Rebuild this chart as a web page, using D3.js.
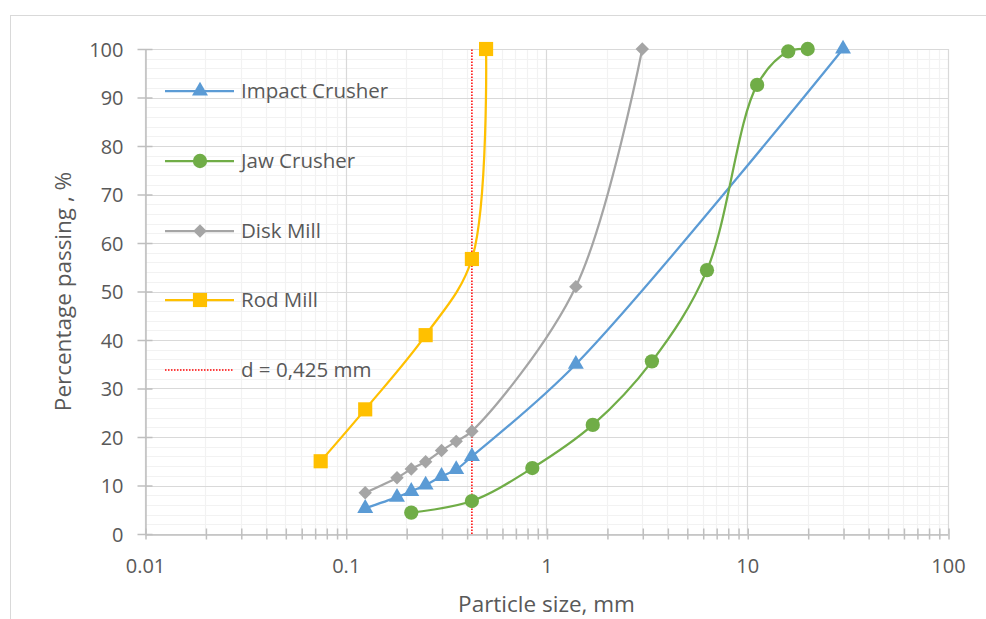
<!DOCTYPE html>
<html>
<head>
<meta charset="utf-8">
<script src="https://cdn.jsdelivr.net/npm/d3@7"></script>
<style>
  body { margin: 0; background: #fff; }
  text { font-family: "Open Sans", "Noto Sans", sans-serif; fill: #595959; }
</style>
</head>
<body>
<div id="chart"></div>
<script>
// particle size (mm) and % passing
const impactSize = [0.125, 0.18, 0.212, 0.25, 0.3, 0.355, 0.425, 1.4, 30];
const impactPass = [5.3, 7.6, 8.8, 10.1, 11.9, 13.3, 16.0, 35.0, 100];

const jawSize = [0.212, 0.425, 0.85, 1.7, 3.35, 6.3, 11.2, 16, 20];
const jawPass = [4.4, 6.8, 13.6, 22.5, 35.6, 54.4, 92.6, 99.5, 100];

const diskSize = [0.125, 0.18, 0.212, 0.25, 0.3, 0.355, 0.425, 1.4, 3];
const diskPass = [8.5, 11.6, 13.4, 14.9, 17.2, 19.1, 21.2, 51.0, 100];

const rodSize = [0.075, 0.125, 0.25, 0.425, 0.5];
const rodPass = [15.0, 25.7, 41.0, 56.7, 100];

const cutSize = 0.425;

const seriesNames = ["Impact Crusher", "Jaw Crusher", "Disk Mill", "Rod Mill"];
const xTickLabels = [0.01, 0.1, 1, 10, 100];
const yTickLabels = [0, 10, 20, 30, 40, 50, 60, 70, 80, 90, 100];

const width = 986, height = 619;
const margin = { top: 49, right: 38, bottom: 85, left: 145 };

const svg = d3.select("#chart").append("svg")
    .attr("width", width)
    .attr("height", height);

// outer chart frame
svg.append("rect")
    .attr("x", 10.5).attr("y", 15.5)
    .attr("width", width).attr("height", height)
    .attr("fill", "none")
    .attr("stroke", "#d9d9d9");

const x = d3.scaleLog().domain([0.01, 100]).range([margin.left, width - margin.right]);
const y = d3.scaleLinear().domain([0, 100]).range([height - margin.bottom, margin.top]);

const g = svg.append("g");

// minor grid
const minorX = [];
for (let dec = 0.01; dec < 100; dec *= 10) {
    for (let k = 2; k <= 9; k++) minorX.push(+(dec * k).toPrecision(3));
}
const minorY = d3.range(0, 101, 2).filter(v => v % 10 !== 0);

g.selectAll("line.minx").data(minorX).enter().append("line")
    .attr("x1", d => Math.round(x(d)) + 0.5).attr("x2", d => Math.round(x(d)) + 0.5)
    .attr("y1", y(0)).attr("y2", y(100))
    .attr("stroke", "#f2f2f2").attr("stroke-width", 1.2);
g.selectAll("line.miny").data(minorY).enter().append("line")
    .attr("x1", x(0.01)).attr("x2", x(100))
    .attr("y1", d => Math.round(y(d)) + 0.5).attr("y2", d => Math.round(y(d)) + 0.5)
    .attr("stroke", "#f2f2f2").attr("stroke-width", 1.2);

// major grid
g.selectAll("line.majx").data(xTickLabels).enter().append("line")
    .attr("x1", d => Math.round(x(d)) + 0.5).attr("x2", d => Math.round(x(d)) + 0.5)
    .attr("y1", y(0)).attr("y2", y(100))
    .attr("stroke", "#d9d9d9").attr("stroke-width", 1.2);
g.selectAll("line.majy").data(yTickLabels).enter().append("line")
    .attr("x1", x(0.01)).attr("x2", x(100))
    .attr("y1", d => Math.round(y(d)) + 0.5).attr("y2", d => Math.round(y(d)) + 0.5)
    .attr("stroke", "#d9d9d9").attr("stroke-width", 1.2);

// axes
const xAxis = d3.axisBottom(x)
    .tickValues(xTickLabels.concat(minorX))
    .tickFormat(d => xTickLabels.includes(d) ? String(d) : "")
    .tickSize(5).tickSizeOuter(0).tickPadding(19);
const xg = svg.append("g")
    .attr("transform", `translate(0,${Math.round(y(0)) + 0.5})`)
    .call(xAxis);
xg.selectAll(".tick line").attr("y1", -6).attr("y2", 5);
xg.selectAll(".tick line").attr("transform", "translate(0.5,0)");

const yAxis = d3.axisLeft(y)
    .tickValues(yTickLabels)
    .tickSize(8).tickSizeOuter(0).tickPadding(14);
const yg = svg.append("g")
    .attr("transform", `translate(${Math.round(x(0.01)) + 0.5},0)`)
    .call(yAxis);
yg.selectAll(".tick line").attr("x2", 7).attr("x1", -8);

[xg, yg].forEach(a => {
    a.select(".domain").attr("stroke", "#bfbfbf").attr("stroke-width", 1.5);
    a.selectAll(".tick line").attr("stroke", "#bfbfbf").attr("stroke-width", 1.5);
    a.selectAll(".tick text").style("font-size", "20px").attr("fill", "#595959");
});
yg.selectAll(".tick text").attr("dy", "0.35em");

// cut size line
svg.append("line")
    .attr("x1", x(cutSize)).attr("x2", x(cutSize))
    .attr("y1", y(0)).attr("y2", y(100))
    .attr("stroke", "#ff0000").attr("stroke-width", 1.5)
    .attr("stroke-dasharray", "1.5,1.5");

const series = [
    { name: seriesNames[0], xs: impactSize, ys: impactPass, color: "#5b9bd5", symbol: d3.symbolTriangle, size: 110, rot: 0 },
    { name: seriesNames[1], xs: jawSize, ys: jawPass, color: "#70ad47", symbol: d3.symbolCircle, size: 160, rot: 0 },
    { name: seriesNames[2], xs: diskSize, ys: diskPass, color: "#a5a5a5", symbol: d3.symbolSquare, size: 90, rot: 45 },
    { name: seriesNames[3], xs: rodSize, ys: rodPass, color: "#ffc000", symbol: d3.symbolSquare, size: 200, rot: 0 }
];

const line = d3.line()
    .x(d => x(d[0])).y(d => y(d[1]))
    .curve(d3.curveCatmullRom.alpha(0.5));

const sg = svg.append("g");
series.forEach(s => {
    const pts = s.xs.map((v, i) => [v, s.ys[i]]);
    sg.append("path")
        .datum(pts)
        .attr("d", line)
        .attr("fill", "none")
        .attr("stroke", s.color)
        .attr("stroke-width", 2.25);
    sg.selectAll(null).data(pts).enter().append("path")
        .attr("transform", d => `translate(${x(d[0])},${y(d[1])}) rotate(${s.rot})`)
        .attr("d", d3.symbol().type(s.symbol).size(s.size))
        .attr("fill", s.color);
});

// legend
const legend = svg.append("g");
const legY = [91, 161, 231, 300, 370];
series.forEach((s, i) => {
    const lg = legend.append("g").attr("transform", `translate(0,${legY[i]})`);
    lg.append("line").attr("x1", 165).attr("x2", 234)
        .attr("stroke", s.color).attr("stroke-width", 2.25);
    lg.append("path").attr("transform", `translate(200,0) rotate(${s.rot})`)
        .attr("d", d3.symbol().type(s.symbol).size(s.size))
        .attr("fill", s.color);
    lg.append("text").attr("x", 241).attr("dy", "0.35em")
        .style("font-size", "20.5px").text(s.name);
});
const cl = legend.append("g").attr("transform", `translate(0,${legY[4]})`);
cl.append("line").attr("x1", 165).attr("x2", 233)
    .attr("stroke", "#ff0000").attr("stroke-width", 1.5)
    .attr("stroke-dasharray", "1.5,1.5");
cl.append("text").attr("x", 241).attr("dy", "0.35em")
    .style("font-size", "20.5px").text("d = 0,425 mm");

// axis titles
svg.append("text")
    .attr("x", x(1)).attr("y", 604).attr("dy", "0.35em")
    .attr("text-anchor", "middle")
    .style("font-size", "22.5px")
    .text("Particle size, mm");
svg.append("text")
    .attr("transform", `translate(63,${y(50)}) rotate(-90)`)
    .attr("dy", "0.35em")
    .attr("text-anchor", "middle")
    .style("font-size", "22.5px")
    .text("Percentage passing , %");
</script>
</body>
</html>
